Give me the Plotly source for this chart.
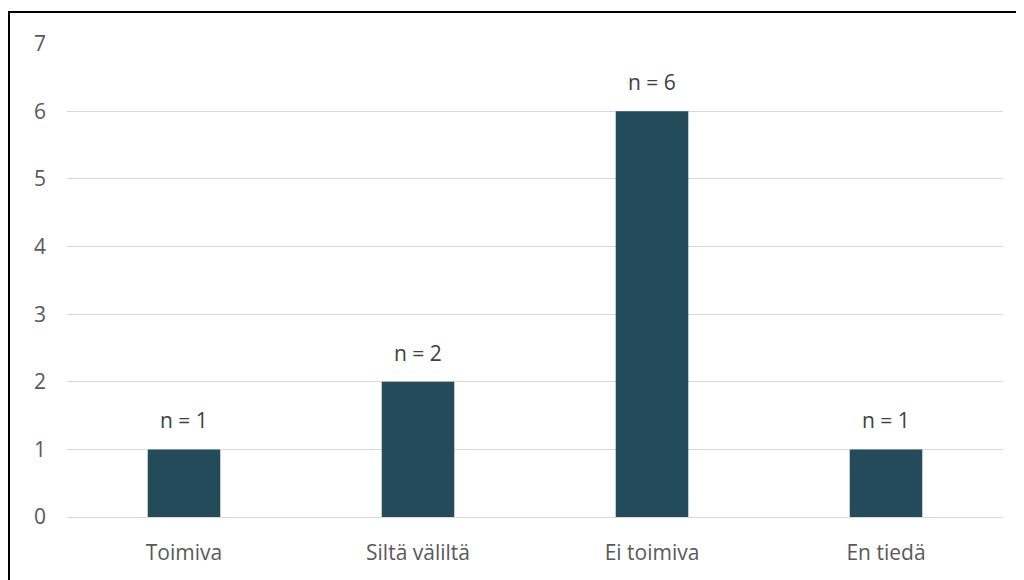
import plotly.graph_objects as go

categories = ["Toimiva", "Siltä väliltä", "Ei toimiva", "En tiedä"]
values = [1, 2, 6, 1]
labels = [f"n = {v}" for v in values]

FONT = "Open Sans, Lato, sans-serif"
GRAY = "#595959"

fig = go.Figure(go.Bar(
    x=categories, y=values,
    marker=dict(color="#234B59", line=dict(width=0)),
))

for c, v, t in zip(categories, values, labels):
    fig.add_annotation(x=c, y=v, text=t, showarrow=False, yanchor="bottom",
                       yshift=13, font=dict(family=FONT, size=21, color="#404040"))

L, R, T, B = 59, 29, 35, 71
H = 580 - T - B
W = 1024 - L - R

fig.update_layout(
    width=1024, height=580,
    margin=dict(l=L, r=R, t=T, b=B),
    paper_bgcolor="white", plot_bgcolor="white",
    bargap=0.69,
    showlegend=False,
    font=dict(family=FONT, size=21, color=GRAY),
    yaxis=dict(range=[0, 7.01], dtick=1, showgrid=True, gridcolor="#D9D9D9", gridwidth=1,
               zeroline=False, showline=False, ticks="", ticklabelstandoff=20,
               tickfont=dict(size=21, color=GRAY)),
    xaxis=dict(showline=True, linecolor="#D9D9D9", linewidth=1, ticks="",
               ticklabelstandoff=17, tickfont=dict(size=21, color=GRAY)),
    shapes=[dict(type="rect", xref="paper", yref="paper",
                 x0=(1 - L) / W, x1=1.1, y0=-0.3, y1=(580 - B - 4) / H,
                 line=dict(color="black", width=2), fillcolor="rgba(0,0,0,0)", layer="above")],
)

fig.write_html("out.html")
